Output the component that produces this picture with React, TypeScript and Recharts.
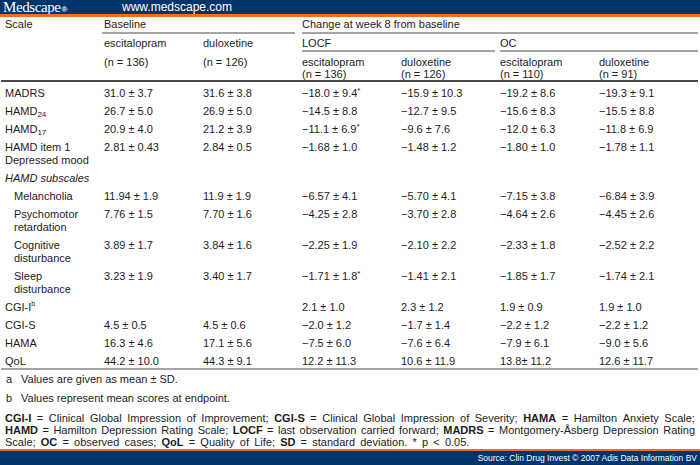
import React from 'react';
import { ScatterChart, Scatter, XAxis, YAxis, ReferenceLine } from 'recharts';

// table content
const scaleLabels = [
  'MADRS',
  'HAMD24',
  'HAMD17',
  'HAMD item 1\nDepressed mood',
  'HAMD subscales',
  'Melancholia',
  'Psychomotor\nretardation',
  'Cognitive\ndisturbance',
  'Sleep\ndisturbance',
  'CGI-I',
  'CGI-S',
  'HAMA',
  'QoL'
];
const subscaleItems = ['Melancholia', 'Psychomotor\nretardation', 'Cognitive\ndisturbance', 'Sleep\ndisturbance'];
const groupHeadings = ['HAMD subscales'];
const subscriptLabels: Record<string, [string, string]> = {
  HAMD24: ['HAMD', '24'],
  HAMD17: ['HAMD', '17']
};
const footnoteMarks: Record<string, string> = { 'CGI-I': 'b' };

const baselineEscitalopram = ['31.0 ± 3.7', '26.7 ± 5.0', '20.9 ± 4.0', '2.81 ± 0.43', '', '11.94 ± 1.9', '7.76 ± 1.5', '3.89 ± 1.7', '3.23 ± 1.9', '', '4.5 ± 0.5', '16.3 ± 4.6', '44.2 ± 10.0'];
const baselineDuloxetine = ['31.6 ± 3.8', '26.9 ± 5.0', '21.2 ± 3.9', '2.84 ± 0.5', '', '11.9 ± 1.9', '7.70 ± 1.6', '3.84 ± 1.6', '3.40 ± 1.7', '', '4.5 ± 0.6', '17.1 ± 5.6', '44.3 ± 9.1'];
const locfEscitalopram = ['−18.0 ± 9.4*', '−14.5 ± 8.8', '−11.1 ± 6.9*', '−1.68 ± 1.0', '', '−6.57 ± 4.1', '−4.25 ± 2.8', '−2.25 ± 1.9', '−1.71 ± 1.8*', '2.1 ± 1.0', '−2.0 ± 1.2', '−7.5 ± 6.0', '12.2 ± 11.3'];
const locfDuloxetine = ['−15.9 ± 10.3', '−12.7 ± 9.5', '−9.6 ± 7.6', '−1.48 ± 1.2', '', '−5.70 ± 4.1', '−3.70 ± 2.8', '−2.10 ± 2.2', '−1.41 ± 2.1', '2.3 ± 1.2', '−1.7 ± 1.4', '−7.6 ± 6.4', '10.6 ± 11.9'];
const ocEscitalopram = ['−19.2 ± 8.6', '−15.6 ± 8.3', '−12.0 ± 6.3', '−1.80 ± 1.0', '', '−7.15 ± 3.8', '−4.64 ± 2.6', '−2.33 ± 1.8', '−1.85 ± 1.7', '1.9 ± 0.9', '−2.2 ± 1.2', '−7.9 ± 6.1', '13.8± 11.2'];
const ocDuloxetine = ['−19.3 ± 9.1', '−15.5 ± 8.8', '−11.8 ± 6.9', '−1.78 ± 1.1', '', '−6.84 ± 3.9', '−4.45 ± 2.6', '−2.52 ± 2.2', '−1.74 ± 2.1', '1.9 ± 1.0', '−2.2 ± 1.2', '−9.0 ± 5.6', '12.6 ± 11.7'];

const groupHeaders = ['Scale', 'Baseline', 'Change at week 8 from baseline'];
const methodHeaders = ['LOCF', 'OC'];
const drugNames = ['escitalopram', 'duloxetine'];
const sampleSizes = ['(n = 136)', '(n = 126)', '(n = 136)', '(n = 126)', '(n = 110)', '(n = 91)'];

const footnotes = [
  ['a', 'Values are given as mean ± SD.'],
  ['b', 'Values represent mean scores at endpoint.']
];
const glossary = [
  ['CGI-I', 'Clinical Global Impression of Improvement'],
  ['CGI-S', 'Clinical Global Impression of Severity'],
  ['HAMA', 'Hamilton Anxiety Scale'],
  ['HAMD', 'Hamilton Depression Rating Scale'],
  ['LOCF', 'last observation carried forward'],
  ['MADRS', 'Montgomery-Åsberg Depression Rating Scale'],
  ['OC', 'observed cases'],
  ['QoL', 'Quality of Life'],
  ['SD', 'standard deviation']
];
const significanceNote = '* p < 0.05.';
const sourceText = 'Source: Clin Drug Invest © 2007 Adis Data Information BV';

const FONT = '"Liberation Sans", Arial, Helvetica, sans-serif';
const NAVY = '#00356b';
const ORANGE = '#f26f21';
const INK = '#1c1c1c';
const RULE = '#4a4a4a';

// vertical layout (px on the y scale)
const HEAD_Y = [24, 43, 62, 74];
const ROW_TOP = 93;
const ROW_STEP = 18;
const LINE_STEP = 13;

const rowY: number[] = [];
{
  let y = ROW_TOP;
  scaleLabels.forEach((label) => {
    rowY.push(y);
    y += ROW_STEP + (label.split('\n').length - 1) * LINE_STEP;
  });
}

const valueColumns = [baselineEscitalopram, baselineDuloxetine, locfEscitalopram, locfDuloxetine, ocEscitalopram, ocDuloxetine];

const headerCells = [
  { x: 0, y: HEAD_Y[0], text: groupHeaders[0] },
  { x: 1, y: HEAD_Y[0], text: groupHeaders[1] },
  { x: 3, y: HEAD_Y[0], text: groupHeaders[2] },
  { x: 1, y: HEAD_Y[1], text: drugNames[0] },
  { x: 2, y: HEAD_Y[1], text: drugNames[1] },
  { x: 3, y: HEAD_Y[1], text: methodHeaders[0] },
  { x: 5, y: HEAD_Y[1], text: methodHeaders[1] },
  { x: 1, y: HEAD_Y[2], text: sampleSizes[0] },
  { x: 2, y: HEAD_Y[2], text: sampleSizes[1] },
  ...[3, 4, 5, 6].map((c, i) => ({ x: c, y: HEAD_Y[2], text: drugNames[i % 2] })),
  ...[3, 4, 5, 6].map((c, i) => ({ x: c, y: HEAD_Y[3], text: sampleSizes[i + 2] }))
];

const labelCells = scaleLabels.map((label, i) => ({
  x: 0,
  y: rowY[i],
  text: label,
  indent: subscaleItems.includes(label),
  italic: groupHeadings.includes(label)
}));

const valueCells = valueColumns.flatMap((col, c) =>
  col.map((text, i) => ({ x: c + 1, y: rowY[i], text })).filter((d) => d.text !== '')
);

const renderLine = (line: string) => {
  if (subscriptLabels[line]) {
    const [base, sub] = subscriptLabels[line];
    return [base, <tspan key="s" fontSize={8} dy={3}>{sub}</tspan>];
  }
  if (footnoteMarks[line]) {
    return [line, <tspan key="m" fontSize={7} dy={-4}>{footnoteMarks[line]}</tspan>];
  }
  if (line.endsWith('*')) {
    return [line.slice(0, -1), <tspan key="a" fontSize={8} dy={-3}>*</tspan>];
  }
  return line;
};

const CellText = (props: any) => {
  const { cx, cy, payload } = props;
  if (cx == null || cy == null) return null;
  const lines = String(payload.text).split('\n');
  const dx = payload.indent ? 9 : 0;
  return (
    <g>
      {lines.map((line, k) => (
        <text
          key={k}
          x={cx + dx}
          y={cy + k * LINE_STEP}
          dominantBaseline="central"
          fontSize={11}
          fontFamily={FONT}
          fontStyle={payload.italic ? 'italic' : 'normal'}
          fill={INK}
        >
          {renderLine(line)}
        </text>
      ))}
    </g>
  );
};

const rules = [
  { x1: 0.98, x2: 2.93, y: 33, w: 1 },
  { x1: 3, x2: 7, y: 33, w: 1 },
  { x1: 3, x2: 4.95, y: 51, w: 1 },
  { x1: 5, x2: 7, y: 51, w: 1 },
  { x1: -0.04, x2: 7, y: 81, w: 2 },
  { x1: -0.04, x2: 7, y: 369, w: 1 }
];

// glossary words, broken into the three printed lines
type Tok = { t: string; b: boolean };
const glossaryTokens: Tok[][] = glossary.map(([abbr, meaning], i) => {
  const words = meaning.split(' ');
  const end = i < glossary.length - 1 ? ';' : '.';
  return [
    { t: abbr, b: true },
    { t: '=', b: false },
    ...words.map((w, k) => ({ t: k === words.length - 1 ? w + end : w, b: false }))
  ];
});
const flatTokens: Tok[] = [
  ...glossaryTokens.flat(),
  ...significanceNote.split(' ').map((t) => ({ t, b: false }))
];
const break1 = glossaryTokens.slice(0, 3).flat().length;
const break2 = glossaryTokens.slice(0, 6).flat().length - 1;
const glossaryLines = [flatTokens.slice(0, break1), flatTokens.slice(break1, break2), flatTokens.slice(break2)];

const App: React.FC = () => {
  return (
    <div style={{ position: 'relative', width: 700, height: 465, background: '#fff', fontFamily: FONT, overflow: 'hidden' }}>
      <style>{'body{margin:0}'}</style>
      <ScatterChart width={700} height={465} margin={{ top: 0, right: 2, bottom: 0, left: 5 }}>
        <XAxis type="number" dataKey="x" domain={[0, 7]} hide allowDataOverflow />
        <YAxis type="number" dataKey="y" domain={[0, 465]} reversed hide allowDataOverflow />
        {rules.map((r, i) => (
          <ReferenceLine
            key={i}
            segment={[{ x: r.x1, y: r.y }, { x: r.x2, y: r.y }]}
            stroke={RULE}
            strokeWidth={r.w}
            ifOverflow="visible"
          />
        ))}
        <Scatter data={headerCells} shape={CellText} isAnimationActive={false} legendType="none" />
        <Scatter data={labelCells} shape={CellText} isAnimationActive={false} legendType="none" />
        <Scatter data={valueCells} shape={CellText} isAnimationActive={false} legendType="none" />
      </ScatterChart>

      {/* top banner */}
      <div style={{ position: 'absolute', left: 0, top: 0, width: 700, height: 14, background: NAVY, borderBottom: `3px solid ${ORANGE}`, overflow: 'hidden' }}>
        <span style={{ position: 'absolute', left: 3, top: 0, color: '#fff', fontFamily: '"Liberation Serif", "DejaVu Serif", serif', fontSize: 15, letterSpacing: -0.4, lineHeight: '14px', whiteSpace: 'nowrap' }}>
          Medscape<span style={{ fontSize: 8, fontFamily: FONT, fontWeight: 'bold', marginLeft: 1 }}>®</span>
        </span>
        <span style={{ position: 'absolute', left: 122, top: 0, color: '#fff', fontSize: 12, lineHeight: '14px' }}>
          www.medscape.com
        </span>
      </div>

      {/* footnotes */}
      {footnotes.map(([mark, text], i) => (
        <div key={mark} style={{ position: 'absolute', left: 0, top: 372 + i * 19, height: 14, lineHeight: '14px', fontSize: 11, color: INK }}>
          <span style={{ position: 'absolute', left: 6 }}>{mark}</span>
          <span style={{ position: 'absolute', left: 21, whiteSpace: 'nowrap' }}>{text}</span>
        </div>
      ))}
      {glossaryLines.map((line, li) => (
        <div
          key={li}
          style={{
            position: 'absolute',
            left: 5,
            top: 412 + li * 12,
            width: li < 2 ? 690 : undefined,
            height: 12,
            lineHeight: '12px',
            fontSize: 11,
            color: INK,
            whiteSpace: 'nowrap',
            display: 'flex',
            justifyContent: li < 2 ? 'space-between' : 'flex-start',
            gap: li < 2 ? 0 : 5.2
          }}
        >
          {line.map((tok, k) => (
            <span key={k} style={{ fontWeight: tok.b ? 'bold' : 'normal' }}>{tok.t}</span>
          ))}
        </div>
      ))}

      {/* bottom banner */}
      <div style={{ position: 'absolute', left: 0, top: 449, width: 700, height: 14, background: NAVY, borderTop: `2px solid ${ORANGE}` }}>
        <span style={{ position: 'absolute', right: 3, top: 0, color: '#fff', fontSize: 8.5, lineHeight: '15px', whiteSpace: 'nowrap' }}>
          {sourceText}
        </span>
      </div>
    </div>
  );
};

export default App;
